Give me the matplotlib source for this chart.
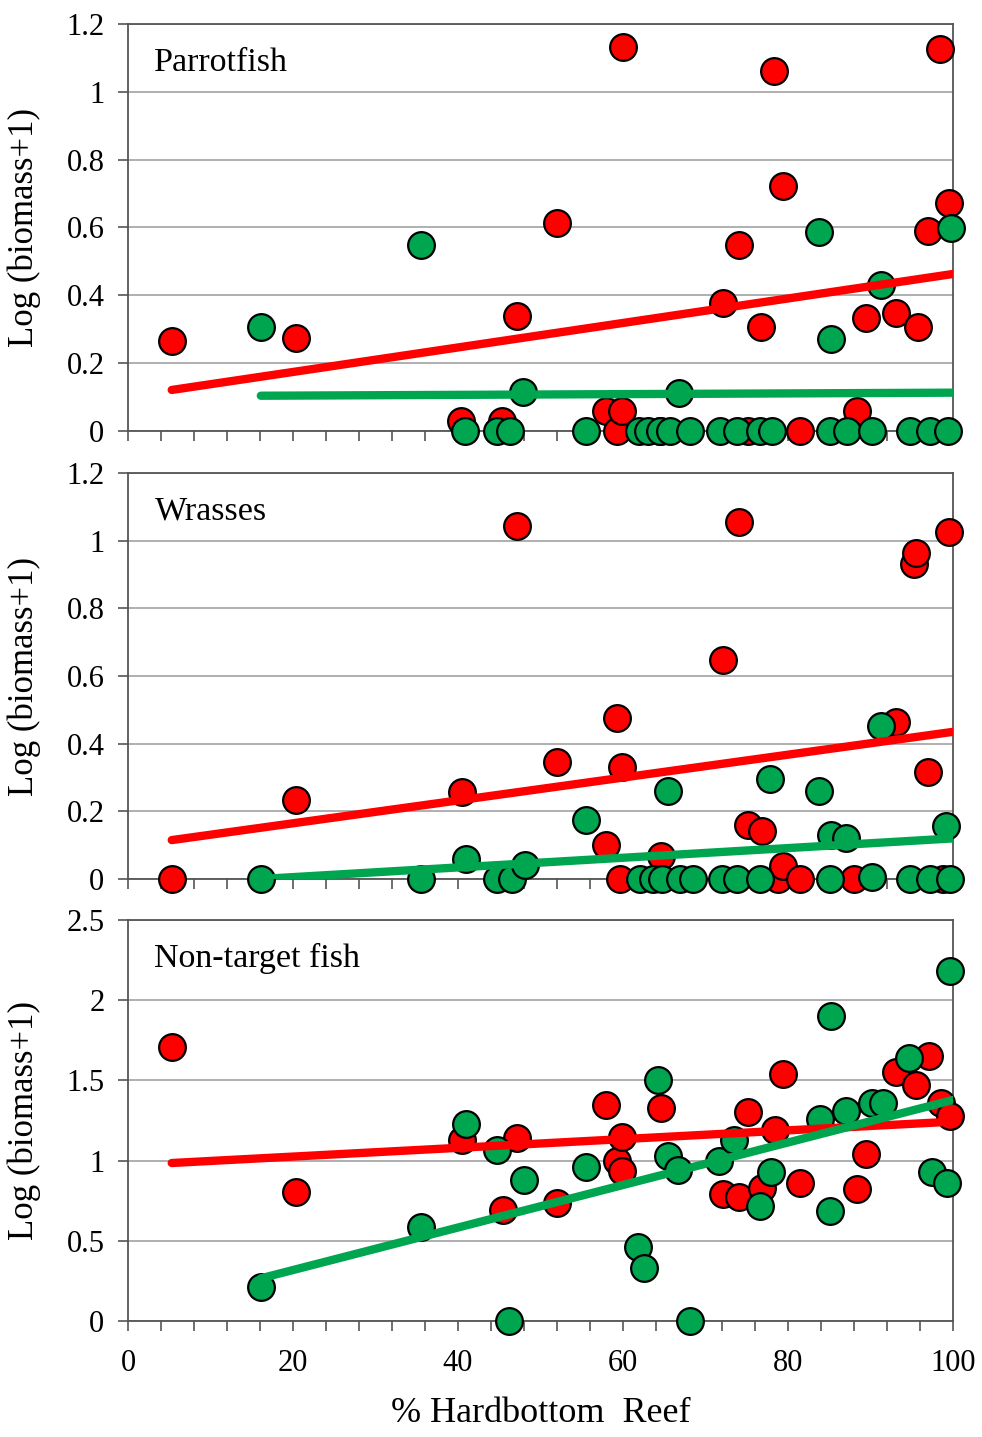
import matplotlib
matplotlib.use("Agg")
import matplotlib.pyplot as plt
import numpy as np
from matplotlib.ticker import MultipleLocator, FuncFormatter

plt.rcParams['font.family'] = ['Liberation Serif', 'DejaVu Serif']

# ---------------- data ----------------
panel_titles = ["Parrotfish", "Wrasses", "Non-target fish"]
y_limits = [(0, 1.2), (0, 1.2), (0, 2.5)]
y_steps = [0.2, 0.2, 0.5]

# Parrotfish
p_red_x = [5.3, 20.4, 40.4, 45.3, 47.2, 52.0, 57.9, 59.3, 59.9, 60.0, 64.5, 72.1, 74.1, 75.2,
           76.7, 78.3, 79.4, 81.5, 88.4, 89.5, 93.1, 95.8, 97.0, 98.4, 99.5]
p_red_y = [0.265, 0.274, 0.03, 0.03, 0.34, 0.614, 0.059, 0.0, 0.06, 1.133, 0.0, 0.378, 0.549, 0.0,
           0.307, 1.062, 0.723, 0.0, 0.059, 0.333, 0.348, 0.307, 0.59, 1.127, 0.673]
p_green_x = [16.1, 35.5, 40.8, 44.7, 46.3, 47.9, 55.5, 61.9, 63.0, 64.5, 65.7, 66.8, 68.1, 71.8,
             73.8, 76.6, 78.1, 83.8, 85.1, 85.2, 87.2, 90.2, 91.3, 94.8, 97.2, 99.4, 99.8]
p_green_y = [0.307, 0.549, 0.0, 0.0, 0.0, 0.115, 0.0, 0.0, 0.0, 0.0, 0.0, 0.112, 0.0, 0.0,
             0.0, 0.0, 0.0, 0.587, 0.0, 0.271, 0.0, 0.0, 0.43, 0.0, 0.0, 0.0, 0.6]
p_red_trend_x = [5.3, 100]
p_red_trend_y = [0.121, 0.463]
p_green_trend_x = [16.1, 100]
p_green_trend_y = [0.104, 0.113]

# Wrasses
w_red_x = [5.3, 20.4, 40.5, 47.2, 52.0, 57.9, 59.3, 59.9, 59.6, 64.6, 72.1, 74.1, 75.2, 76.8,
           78.8, 79.4, 81.5, 88.0, 93.1, 95.3, 95.5, 97.0, 98.8, 99.5]
w_red_y = [0.0, 0.233, 0.257, 1.043, 0.346, 0.1, 0.476, 0.331, 0.0, 0.068, 0.647, 1.055, 0.16, 0.142,
           0.0, 0.038, 0.0, 0.0, 0.464, 0.93, 0.964, 0.316, 0.0, 1.025]
w_green_x = [16.1, 35.5, 41.0, 44.7, 46.5, 48.1, 55.5, 62.1, 63.6, 64.7, 65.5, 66.9, 68.5, 72.0,
             73.8, 76.6, 77.8, 83.8, 85.1, 85.2, 87.0, 90.2, 91.3, 94.8, 97.2, 99.2, 99.6]
w_green_y = [0.0, 0.0, 0.06, 0.0, 0.0, 0.04, 0.175, 0.0, 0.0, 0.0, 0.26, 0.0, 0.0, 0.0,
             0.0, 0.0, 0.295, 0.26, 0.0, 0.13, 0.12, 0.007, 0.452, 0.0, 0.0, 0.157, 0.0]
w_red_trend_x = [5.3, 100]
w_red_trend_y = [0.115, 0.435]
w_green_trend_x = [16.1, 100]
w_green_trend_y = [0.0, 0.12]

# Non-target fish
n_red_x = [5.3, 20.4, 40.5, 45.5, 47.2, 52.0, 57.9, 59.3, 59.9, 59.9, 64.6, 72.1, 74.1, 75.2,
           76.8, 78.4, 79.4, 81.5, 88.4, 89.5, 93.1, 95.5, 97.1, 98.5, 99.6]
n_red_y = [1.708, 0.804, 1.128, 0.69, 1.14, 0.735, 1.347, 1.0, 0.935, 1.147, 1.33, 0.79, 0.77, 1.30,
           0.83, 1.19, 1.54, 0.86, 0.82, 1.04, 1.55, 1.47, 1.65, 1.36, 1.28]
n_green_x = [16.1, 35.5, 41.0, 44.7, 46.2, 48.0, 55.5, 61.8, 62.5, 64.2, 65.5, 66.7, 68.1, 71.6,
             73.5, 76.6, 78.0, 83.9, 85.2, 85.1, 87.0, 90.2, 91.5, 94.7, 97.5, 99.3, 99.6]
n_green_y = [0.21, 0.585, 1.228, 1.066, 0.0, 0.88, 0.96, 0.46, 0.33, 1.50, 1.03, 0.94, 0.0, 1.0,
             1.13, 0.72, 0.93, 1.26, 1.90, 0.685, 1.31, 1.36, 1.36, 1.64, 0.93, 0.86, 2.18]
n_red_trend_x = [5.3, 100]
n_red_trend_y = [0.985, 1.243]
n_green_trend_x = [16.1, 100]
n_green_trend_y = [0.266, 1.378]

panels = [
    (p_red_x, p_red_y, p_green_x, p_green_y, p_red_trend_x, p_red_trend_y, p_green_trend_x, p_green_trend_y),
    (w_red_x, w_red_y, w_green_x, w_green_y, w_red_trend_x, w_red_trend_y, w_green_trend_x, w_green_trend_y),
    (n_red_x, n_red_y, n_green_x, n_green_y, n_red_trend_x, n_red_trend_y, n_green_trend_x, n_green_trend_y),
]

# ---------------- style ----------------
RED = "#FF0000"
GREEN = "#00A550"
SPINE = "#555555"
GRID = "#9a9a9a"

fig = plt.figure(figsize=(9.82, 14.37), dpi=100)
W, H = 982, 1437
boxes = [(24, 431), (473, 879), (920, 1321)]
left_px, right_px = 128, 953

def fmt(v, pos):
    s = f"{v:.1f}"
    if s.endswith(".0"):
        s = s[:-2]
    return s

for i, (box, data) in enumerate(zip(boxes, panels)):
    top, bot = box
    ax = fig.add_axes([left_px / W, 1 - bot / H, (right_px - left_px) / W, (bot - top) / H])
    rx, ry, gx, gy, rtx, rty, gtx, gty = data
    ax.scatter(rx, ry, s=370, c=RED, edgecolors="black", linewidths=1.6, zorder=3, clip_on=False)
    ax.scatter(gx, gy, s=370, c=GREEN, edgecolors="black", linewidths=1.6, zorder=3, clip_on=False)
    ax.plot(rtx, rty, color=RED, lw=6, solid_capstyle="round", zorder=4)
    ax.plot(gtx, gty, color=GREEN, lw=6, solid_capstyle="round", zorder=4)

    ax.set_xlim(0, 100)
    ax.set_ylim(*y_limits[i])
    ax.yaxis.set_major_locator(MultipleLocator(y_steps[i]))
    ax.yaxis.set_major_formatter(FuncFormatter(fmt))
    ax.xaxis.set_major_locator(MultipleLocator(20))
    ax.xaxis.set_minor_locator(MultipleLocator(4))
    ax.grid(axis="y", which="major", color=GRID, lw=1.1, zorder=0)
    ax.set_axisbelow(True)
    for sp in ax.spines.values():
        sp.set_color(SPINE)
        sp.set_linewidth(1.3)
    ax.tick_params(axis="y", which="major", direction="out", length=7, width=1.2,
                   color=SPINE, labelsize=22, pad=10)
    ax.tick_params(axis="x", which="both", direction="out", length=7, width=1.2,
                   color=SPINE, labelsize=22, pad=13)
    if i < 2:
        ax.tick_params(axis="x", labelbottom=False)
    ax.set_ylabel("Log (biomass+1)", fontsize=25)
    ax.yaxis.set_label_coords(-0.106, 0.5)
    ax.text(0.032, 0.905, panel_titles[i], transform=ax.transAxes, fontsize=24.5,
            va="center", ha="left")
    if i == 2:
        ax.set_xlabel("% Hardbottom  Reef", fontsize=26, labelpad=14)

fig.savefig("out.png", dpi=100)
